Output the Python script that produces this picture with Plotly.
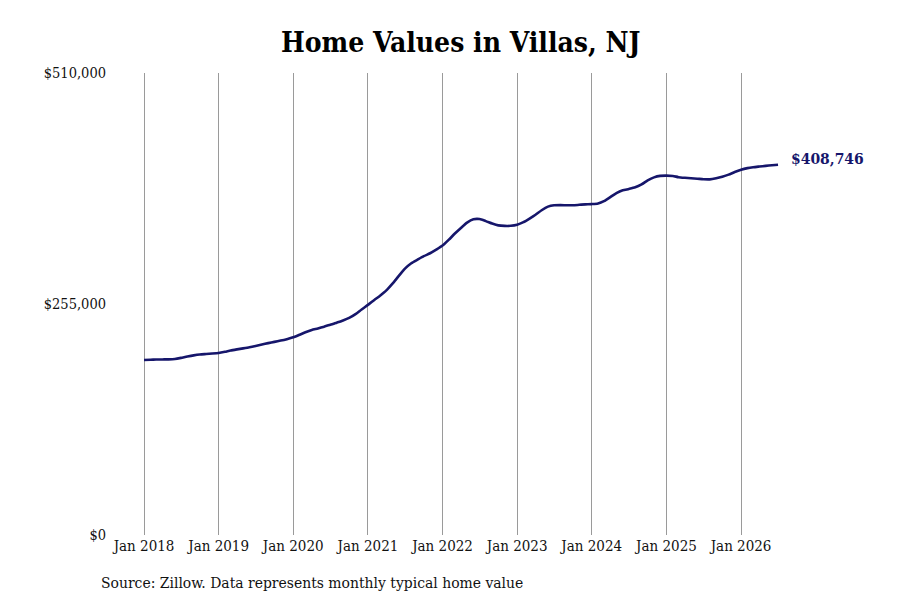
import pandas as pd
import plotly.graph_objs as go

# monthly typical home value, Jan 2018 .. Jul 2026
months = pd.date_range('2018-01-01', '2026-07-01', freq='MS')
home_values = [
    193200, 193500, 193700, 193800, 193900, 194300, 195500, 197000, 198300, 199300, 199800, 200300,
    201000, 202300, 203700, 204900, 206000, 207200, 208600, 210200, 211800, 213200, 214600, 216200,
    218200, 221000, 223800, 226300, 228000, 230000, 232000, 234400, 236800, 239600, 243800, 249000,
    254000, 259500, 264200, 270000, 277500, 286000, 294000, 300000, 304000, 307800, 311000, 315000,
    319500, 326000, 332500, 339000, 344800, 348500, 348800, 346500, 343800, 341800, 341200, 341300,
    342500, 345300, 349000, 353500, 358500, 362500, 364000, 364200, 364000, 364000, 364500, 365000,
    365300, 366000, 368500, 373000, 377500, 380500, 382000, 383800, 387000, 391500, 394800, 396400,
    396700, 396300, 395000, 394300, 393800, 393300, 392700, 392600, 393800, 395500, 397800, 400700,
    403200, 405000, 406000, 406800, 407500, 408200, 408746,
]
y_ticks = [0, 255000, 510000]
y_tick_labels = ['$0', '$255,000', '$510,000']
x_ticks = pd.date_range('2018-01-01', '2026-01-01', freq='YS')
x_tick_labels = [d.strftime('Jan %Y') for d in x_ticks]

serif = 'DejaVu Serif Condensed, DejaVu Serif, serif'
navy = '#16166b'

fig = go.Figure()

fig.add_trace(go.Scatter(x=months, y=home_values,
                         mode='lines',
                         line=dict(color=navy, width=2.6, shape='spline', smoothing=0.6),
                         hoverinfo='skip',
                         name='home value'))

# label at the last point, sits a little above the line end
fig.add_annotation(x=months[-1], y=home_values[-1],
                   text='<b>${:,}</b>'.format(home_values[-1]),
                   showarrow=False, xanchor='left', yanchor='middle', xshift=11, yshift=6,
                   font=dict(family=serif, size=15.5, color=navy))

fig.add_annotation(x=-0.024, y=-0.104, xref='paper', yref='paper',
                   text='Source: Zillow. Data represents monthly typical home value',
                   showarrow=False, xanchor='left', yanchor='middle',
                   font=dict(family=serif, size=15.5, color='#111111'))

# page is drawn with an 8px offset, so margins are trimmed on the left/top
fig.update_layout(
    width=900, height=600,
    margin=dict(l=107, r=123, t=65, b=73),
    paper_bgcolor='white', plot_bgcolor='white',
    showlegend=False,
    font=dict(family=serif, size=15, color='#111111'),
    title=dict(text='<b>Home Values in Villas, NJ</b>', x=0.503, xanchor='center',
               xref='container', y=0.943, yanchor='middle',
               font=dict(family=serif, size=28, color='black')))

fig.update_xaxes(range=['2017-08-12', '2026-08-04'],
                 tickvals=x_ticks, ticktext=x_tick_labels,
                 showgrid=True, gridcolor='#9a9a9a', gridwidth=1,
                 ticks='', ticklabelstandoff=0,
                 showline=False, zeroline=False,
                 tickfont=dict(family=serif, size=15))

fig.update_yaxes(range=[0, 510000],
                 tickvals=y_ticks, ticktext=y_tick_labels,
                 showgrid=False, showline=False, zeroline=False,
                 ticks='', ticklabelstandoff=8,
                 tickfont=dict(family=serif, size=14.5))

fig.write_html("out.html")
